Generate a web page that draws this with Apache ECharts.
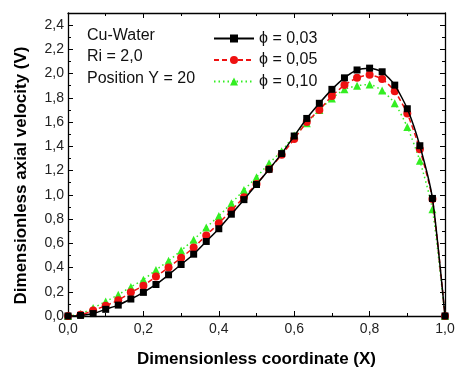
<!DOCTYPE html>
<html>
<head>
<meta charset="utf-8">
<script src="https://cdn.jsdelivr.net/npm/echarts@6/dist/echarts.min.js"></script>
<style>
  html, body { margin: 0; padding: 0; background: #fff; }
  #echart { width: 470px; height: 373px; }
</style>
</head>
<body>
<div id="echart"></div>
<script>
// X positions of the sampled points
var xCoord = [0, 0.0333, 0.0667, 0.1, 0.1333, 0.1667, 0.2, 0.2333, 0.2667, 0.3,
    0.3333, 0.3667, 0.4, 0.4333, 0.4667, 0.5, 0.5333, 0.5667, 0.6, 0.6333,
    0.6667, 0.7, 0.7333, 0.7667, 0.8, 0.8333, 0.8667, 0.9, 0.9333, 0.9667, 1.0];

// axial velocity
var phi003 = [0, 0.005, 0.02, 0.055, 0.09, 0.14, 0.195, 0.26, 0.34, 0.425,
    0.51, 0.615, 0.72, 0.84, 0.96, 1.085, 1.21, 1.34, 1.485, 1.63,
    1.755, 1.87, 1.965, 2.03, 2.045, 2.015, 1.905, 1.71, 1.405, 0.97, 0];
var phi005 = [0, 0.01, 0.045, 0.085, 0.13, 0.195, 0.25, 0.325, 0.4, 0.48,
    0.565, 0.665, 0.765, 0.87, 0.98, 1.09, 1.21, 1.33, 1.46, 1.6,
    1.70, 1.815, 1.905, 1.965, 1.99, 1.955, 1.855, 1.67, 1.375, 0.965, 0];
var phi010 = [0, 0.017, 0.066, 0.12, 0.175, 0.24, 0.30, 0.38, 0.455, 0.54,
    0.63, 0.73, 0.825, 0.93, 1.04, 1.145, 1.26, 1.36, 1.49, 1.59,
    1.70, 1.795, 1.87, 1.90, 1.91, 1.86, 1.755, 1.56, 1.28, 0.88, 0];

var seriesNames = ['\u03d5 = 0,03', '\u03d5 = 0,05', '\u03d5 = 0,10'];
var infoLines = ['Cu-Water', 'Ri = 2,0', 'Position Y = 20'];

var FONT = '"Liberation Sans", Arial, sans-serif';

function pairs(ys) {
    var out = [];
    for (var i = 0; i < ys.length; i++) {
        out.push([xCoord[i], ys[i]]);
    }
    return out;
}

function comma(v) {
    return v.toFixed(1).replace('.', ',');
}

var myChart = echarts.init(document.getElementById('echart'));

var axisLine = { show: true, onZero: false, lineStyle: { color: '#000', width: 1.3 } };
var tick = { show: true, inside: true, length: 5, lineStyle: { color: '#000', width: 1 } };
var minor = { show: true, splitNumber: 2, length: 3, lineStyle: { color: '#000', width: 1 } };

var infoGraphics = [];
for (var i = 0; i < infoLines.length; i++) {
    infoGraphics.push({
        type: 'text',
        left: 87,
        top: 27.5 + i * 21.5,
        style: { text: infoLines[i], font: '16px ' + FONT, fill: '#111' }
    });
}

option = {
    backgroundColor: '#fff',
    animation: false,
    grid: { left: 68, right: 25, top: 13, bottom: 57 },
    graphic: infoGraphics,
    legend: {
        orient: 'vertical',
        left: 208,
        top: 25.5,
        itemWidth: 40,
        itemHeight: 10,
        itemGap: 5.5,
        data: seriesNames,
        textStyle: { fontFamily: FONT, fontSize: 16, color: '#111' }
    },
    xAxis: [{
        type: 'value',
        min: 0, max: 1, interval: 0.2,
        name: 'Dimensionless coordinate (X)',
        nameLocation: 'middle',
        nameGap: 35,
        nameTextStyle: { fontFamily: FONT, fontSize: 17, fontWeight: 'bold', color: '#000' },
        axisLine: axisLine,
        axisTick: tick,
        minorTick: minor,
        splitLine: { show: false },
        axisLabel: { fontFamily: FONT, fontSize: 14, color: '#222', margin: 6, formatter: comma }
    }, {
        type: 'value',
        position: 'top',
        min: 0, max: 1, interval: 0.2,
        axisLine: axisLine,
        axisTick: tick,
        minorTick: minor,
        splitLine: { show: false },
        axisLabel: { show: false }
    }],
    yAxis: [{
        type: 'value',
        min: 0, max: 2.5, interval: 0.2,
        name: 'Dimensionless axial velocity (V)',
        nameLocation: 'middle',
        nameGap: 38,
        nameTextStyle: { fontFamily: FONT, fontSize: 17, fontWeight: 'bold', color: '#000', padding: [0, 22, 0, 0] },
        axisLine: axisLine,
        axisTick: tick,
        minorTick: minor,
        splitLine: { show: false },
        axisLabel: { fontFamily: FONT, fontSize: 14, color: '#222', margin: 4, showMaxLabel: false, formatter: comma }
    }, {
        type: 'value',
        position: 'right',
        min: 0, max: 2.5, interval: 0.2,
        axisLine: axisLine,
        axisTick: tick,
        minorTick: minor,
        splitLine: { show: false },
        axisLabel: { show: false }
    }],
    series: [
        {
            name: seriesNames[0],
            type: 'line',
            data: pairs(phi003),
            smooth: 0.2,
            symbol: 'rect',
            symbolSize: 7,
            itemStyle: { color: '#000' },
            lineStyle: { color: '#000', width: 1.5, type: 'solid' },
            z: 4
        },
        {
            name: seriesNames[1],
            type: 'line',
            data: pairs(phi005),
            smooth: 0.2,
            symbol: 'circle',
            symbolSize: 8,
            itemStyle: { color: '#ee1111' },
            lineStyle: { color: '#ee1111', width: 1.5, type: [5, 3] },
            z: 3
        },
        {
            name: seriesNames[2],
            type: 'line',
            data: pairs(phi010),
            smooth: 0.2,
            symbol: 'triangle',
            symbolSize: 8,
            itemStyle: { color: '#33ee22' },
            lineStyle: { color: '#33ee22', width: 1.5, type: [1.5, 3] },
            z: 2
        }
    ]
};
myChart.setOption(option);
</script>
</body>
</html>
